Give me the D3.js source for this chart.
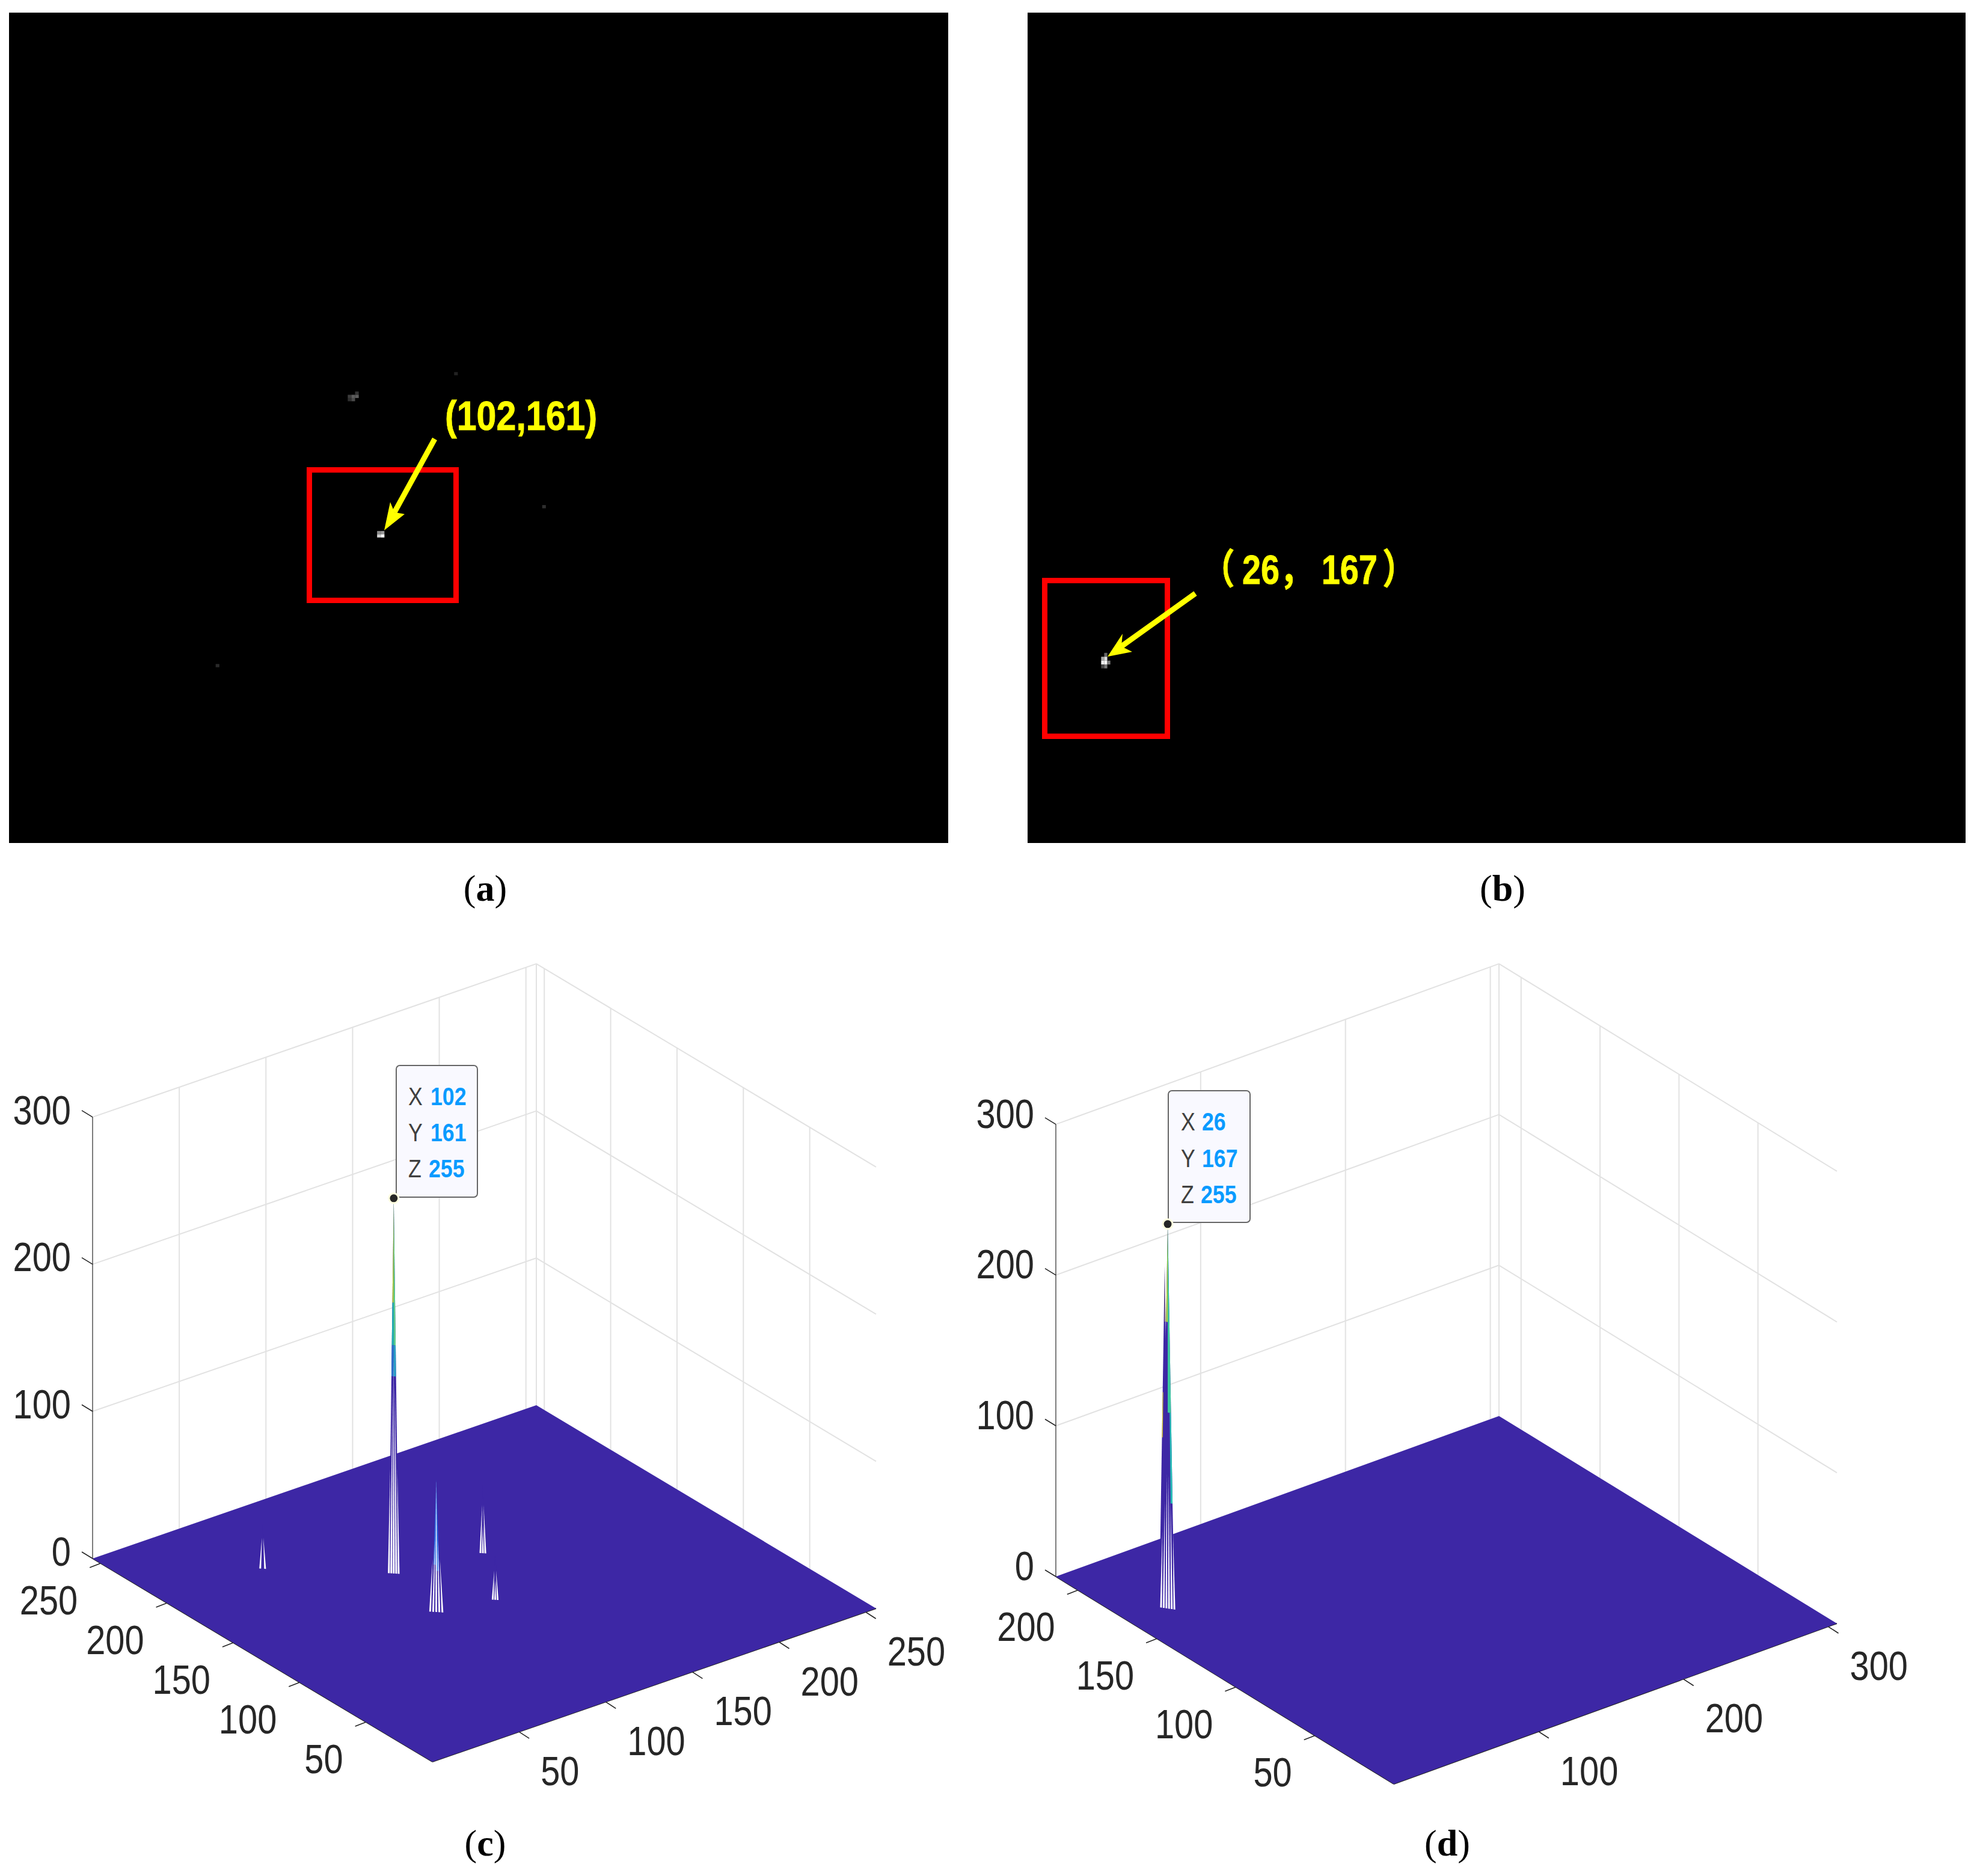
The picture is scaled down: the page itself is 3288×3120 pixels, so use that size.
<!DOCTYPE html>
<html>
<head>
<meta charset="utf-8">
<script src="https://cdnjs.cloudflare.com/ajax/libs/d3/7.8.5/d3.min.js"></script>
<style>
  html, body { margin: 0; padding: 0; background: #fff; }
  svg { display: block; }
  .tick-label { font-family: "Liberation Sans", sans-serif; font-size: 68px; fill: #262626; }
  .tip-key { font-family: "Liberation Sans", sans-serif; font-size: 42px; fill: #404040; }
  .tip-val { font-family: "Liberation Sans", sans-serif; font-size: 42px; font-weight: bold; fill: #0a9bff; }
  .note { font-family: "Liberation Sans", "Noto Sans CJK SC", sans-serif; font-size: 68px; font-weight: bold; fill: #ffff00; stroke: #ffff00; stroke-width: 0.8px; }
  .caption { font-family: "Liberation Serif", serif; font-size: 62px; fill: #000; }
</style>
</head>
<body>
<svg id="fig" width="3288" height="3120"></svg>
<script>
// image pixels as col, row, gray level
const pixelsA = [
  [100,160,140],[101,160,154],[100,161,208],[101,161,255],
  [94,117,51],[92,118,60],[93,118,92],[94,118,92],[92,119,47],[93,119,74],
  [121,111,34],[145,152,46],[56,201,42]
];
const pixelsB = [
  [25,165,102],
  [24,166,170],[25,166,225],
  [24,167,238],[25,167,255],[26,167,119],
  [24,168,68],[25,168,119]
];

// surface peaks as x, y, z
const peaksC = [[101,161,255],[93,118.5,90],[146,152.6,47],[122,112,33],[56,201,30]];
const peaksD = [[26,167,255],[25,168,227]];

const xTicksC = [50,100,150,200,250];
const yTicksC = [50,100,150,200,250];
const xTicksD = [100,200,300];
const yTicksD = [50,100,150,200];
const zTicks = [0,100,200,300];

const tipC = [["X","102"],["Y","161"],["Z","255"]];
const tipD = [["X","26"],["Y","167"],["Z","255"]];

const svg = d3.select("#fig");
const floorColor = "#3d27a5";
const gridColor = "#e2e2e2";
const axisColor = "#262626";

// reference type is a condensed sans, so squeeze Liberation Sans sideways
function squeezed(parent, cls, x, y, str, k) {
  return parent.append("text").attr("class",cls)
    .attr("transform","translate(" + x + "," + y + ") scale(" + (k || 0.85) + ",1)")
    .text(str);
}

drawImagePanel({
  box: [15, 21, 1562, 1381],
  x: d3.scaleLinear().domain([0, 256]).range([17, 1579]),
  y: d3.scaleLinear().domain([0, 256]).range([20, 1401]),
  pixels: pixelsA,
  pixelW: 6.1, pixelH: 5.4,
  red: [514.5, 781.5, 244, 217],
  shaft: [[723, 730], [656, 852]],
  head: [[639, 882], [649, 835], [656, 852], [673, 855]]
});
squeezed(svg,"note",740,715,"(102,161)",0.87);

drawImagePanel({
  box: [1709, 21, 1560, 1381],
  x: d3.scaleLinear().domain([0, 306]).range([1709, 3269]),
  y: d3.scaleLinear().domain([0, 214]).range([21, 1402]),
  pixels: pixelsB,
  pixelW: 5.1, pixelH: 6.45,
  red: [1737.5, 965.5, 204, 259],
  shaft: [[1988, 987], [1865, 1075]],
  head: [[1842, 1092], [1867, 1054], [1865, 1075], [1883, 1084]]
});
const noteB = squeezed(svg,"note",1998,971,"",0.82);
noteB.append("tspan").text("（");
noteB.append("tspan").attr("dx",15).text("26");
noteB.append("tspan").text("，");
noteB.append("tspan").attr("dx",17).text("167");
noteB.append("tspan").attr("dx",10).text("）");

draw3dPanel({
  left: [154, 2592], top: [891, 2337], right: [1457, 2675], bottom: [719, 2930],
  xMax: 256, yMax: 256, zPx: 2.447,
  xTicks: xTicksC, yTicks: yTicksC,
  zLabelDy: -12,
  peaks: peaksC,
  spikes: [
    { w: 1.6, stripes: [[-1,.28],[-.5,.5],[0,.58],[.5,.5],[1,.28]],
      bands: [[-1,184,255,"#b3cf35",0],[1,155,255,"#5ccf8b",0],[-1,155,184,"#1fb0b0",0],[-1,134,155,"#2c6fc8",0],[1,134,155,"#2a9fc4",0]] },
    { w: 2, stripes: [[-1,.4],[-.5,.55],[0,1],[.5,.55],[1,.4]],
      bands: [[-.7,32,90,"#2f6be0",0],[.7,28,90,"#2f6be0",0]] },
    { w: 1, stripes: [[-.8,.7],[0,.4],[.8,.7]], bands: [] },
    { w: 1, stripes: [[-.8,.6],[0,.4],[.8,.6]], bands: [] },
    { w: 1, stripes: [[-.8,.7],[.8,.7]], bands: [] }
  ],
  tipBox: [659, 1772, 135, 219], tip: tipC,
  keyX: 679, valX: [716, 716, 713], baselines: [1838, 1898, 1958]
});
draw3dPanel({
  left: [1756, 2622], top: [2490, 2357], right: [3055, 2700], bottom: [2318, 2967],
  xMax: 306, yMax: 214, zPx: 2.507,
  xTicks: xTicksD, yTicks: yTicksD,
  zLabelDy: -18,
  peaks: peaksD,
  spikes: [
    { w: 2.2, stripes: [[-1,.2],[-.6,.28],[-.2,.35],[.2,.35],[.6,.28],[1,.2]],
      bands: [[1,130,255,"#3cc8a0",0],[1,70,130,"#28c0b8",.6],[-1,190,255,"#a8cf3c",0]] },
    { w: 1.8, stripes: [],
      bands: [[.5,190,227,"#e0c82e",0],[-1,113,143,"#d9c82e",-.7]] }
  ],
  tipBox: [1943, 1814, 136, 219], tip: tipD,
  keyX: 1964, valX: [1999, 1999, 1997], baselines: [1880, 1941, 2001]
});

[["a",807,1498],["b",2499,1498],["c",807,3086],["d",2407,3086]].forEach(function(c) {
  const t = svg.append("text").attr("class","caption")
    .attr("x",c[1]).attr("y",c[2]).attr("text-anchor","middle");
  t.append("tspan").text("(");
  t.append("tspan").attr("font-weight","bold").text(c[0]);
  t.append("tspan").text(")");
});

function drawImagePanel(p) {
  svg.append("rect")
    .attr("x",p.box[0]).attr("y",p.box[1])
    .attr("width",p.box[2]).attr("height",p.box[3])
    .attr("fill","#000");

  svg.append("g").selectAll("rect")
    .data(p.pixels)
    .enter().append("rect")
      .attr("x",d => p.x(d[0]))
      .attr("y",d => p.y(d[1]))
      .attr("width",p.pixelW)
      .attr("height",p.pixelH)
      .attr("fill",d => d3.rgb(d[2],d[2],d[2]));

  svg.append("rect")
    .attr("x",p.red[0]).attr("y",p.red[1])
    .attr("width",p.red[2]).attr("height",p.red[3])
    .attr("fill","none").attr("stroke","#ff0000").attr("stroke-width",9);

  svg.append("path")
    .attr("d",d3.line()(p.shaft))
    .attr("stroke","#ffff00").attr("stroke-width",9).attr("fill","none");
  svg.append("path")
    .attr("d",d3.line()(p.head) + "Z")
    .attr("fill","#ffff00");
}

function draw3dPanel(p) {
  const fx = d3.scaleLinear().domain([0,p.xMax]).range([0,1]);
  const fy = d3.scaleLinear().domain([0,p.yMax]).range([0,1]);
  const fz = d3.scaleLinear().domain([0,300]).range([0,300*p.zPx]);
  const b = p.bottom;
  const proj = function(x,y,z) {
    return [
      b[0] + fx(x)*(p.right[0]-b[0]) + fy(y)*(p.left[0]-b[0]),
      b[1] + fx(x)*(p.right[1]-b[1]) + fy(y)*(p.left[1]-b[1]) - fz(z)
    ];
  };
  const line = d3.line();
  const g = svg.append("g");
  const seg = (a,c,col,w) => g.append("path").attr("d",line([a,c]))
    .attr("stroke",col).attr("stroke-width",w).attr("fill","none");

  // back walls
  [100,200,300].forEach(function(z) {
    seg(proj(0,p.yMax,z),proj(p.xMax,p.yMax,z),gridColor,2);
    seg(proj(p.xMax,p.yMax,z),proj(p.xMax,0,z),gridColor,2);
  });
  p.xTicks.forEach(x => seg(proj(x,p.yMax,0),proj(x,p.yMax,300),gridColor,2));
  p.yTicks.forEach(y => seg(proj(p.xMax,y,0),proj(p.xMax,y,300),gridColor,2));
  seg(proj(p.xMax,p.yMax,0),proj(p.xMax,p.yMax,300),gridColor,2);

  // axes
  seg(proj(0,p.yMax,0),proj(0,p.yMax,300),axisColor,1.2);
  seg(proj(0,0,0),proj(0,p.yMax,0),axisColor,2);
  seg(proj(0,0,0),proj(p.xMax,0,0),axisColor,2);

  p.xTicks.forEach(function(x) {
    const a = proj(x,0,0);
    seg(a,[a[0]+17,a[1]+11],axisColor,1.6);
    squeezed(g,"tick-label",a[0]+36,a[1]+65,x).attr("dy","0.35em");
  });
  p.yTicks.forEach(function(y) {
    const a = proj(0,y,0);
    seg(a,[a[0]-18,a[1]+7],axisColor,1.6);
    squeezed(g,"tick-label",a[0]-38,a[1]+61,y)
      .attr("dy","0.35em").attr("text-anchor","end");
  });
  zTicks.forEach(function(z) {
    const a = proj(0,p.yMax,z);
    seg(a,[a[0]-18,a[1]-11],axisColor,1.6);
    squeezed(g,"tick-label",a[0]-36,a[1]+p.zLabelDy,z)
      .attr("dy","0.35em").attr("text-anchor","end");
  });

  // floor
  g.append("path")
    .attr("d",line([proj(0,0,0),proj(p.xMax,0,0),proj(p.xMax,p.yMax,0),proj(0,p.yMax,0)]) + "Z")
    .attr("fill",floorColor);

  // spikes, fills of every peak go down before any of the white stripes
  p.peaks.forEach(function(pk,i) {
    const s = p.spikes[i];
    const at = (t,z) => {
      const k = t*s.w*(1-z/pk[2]);
      return proj(pk[0]+k,pk[1]-k,z);
    };
    g.append("path")
      .attr("d",line([at(-1,0),at(1,0),at(0,pk[2])]) + "Z")
      .attr("fill",floorColor);
    s.bands.forEach(function(d) {
      g.append("path")
        .attr("d",line([at(d[4],d[1]),at(d[0],d[1]),at(d[0],d[2]),at(d[4],d[2])]) + "Z")
        .attr("fill",d[3]);
    });
  });
  p.peaks.forEach(function(pk,i) {
    p.spikes[i].stripes.forEach(function(d) {
      const z = pk[2]*d[1];
      const half = 0.3;
      const k0 = d[0]*p.spikes[i].w;
      const k1 = k0*(1-d[1]);
      g.append("path")
        .attr("d",line([
          proj(pk[0]+k0-half,pk[1]-k0+half,0),
          proj(pk[0]+k0+half,pk[1]-k0-half,0),
          proj(pk[0]+k1,pk[1]-k1,z)
        ]) + "Z")
        .attr("fill","#fff");
    });
  });

  // data tip
  const tb = p.tipBox;
  g.append("rect")
    .attr("x",tb[0]).attr("y",tb[1]).attr("width",tb[2]).attr("height",tb[3])
    .attr("rx",6).attr("fill","#f9f9ff").attr("stroke","#666").attr("stroke-width",2);
  p.tip.forEach(function(d,i) {
    squeezed(g,"tip-key",p.keyX,p.baselines[i],d[0]);
    squeezed(g,"tip-val",p.valX[i],p.baselines[i],d[1]);
  });
  const top = proj(p.peaks[0][0],p.peaks[0][1],p.peaks[0][2]);
  g.append("circle").attr("cx",top[0]).attr("cy",top[1]).attr("r",8)
    .attr("fill","#262626").attr("stroke","#ffffe0").attr("stroke-width",3);
}
</script>
</body>
</html>
